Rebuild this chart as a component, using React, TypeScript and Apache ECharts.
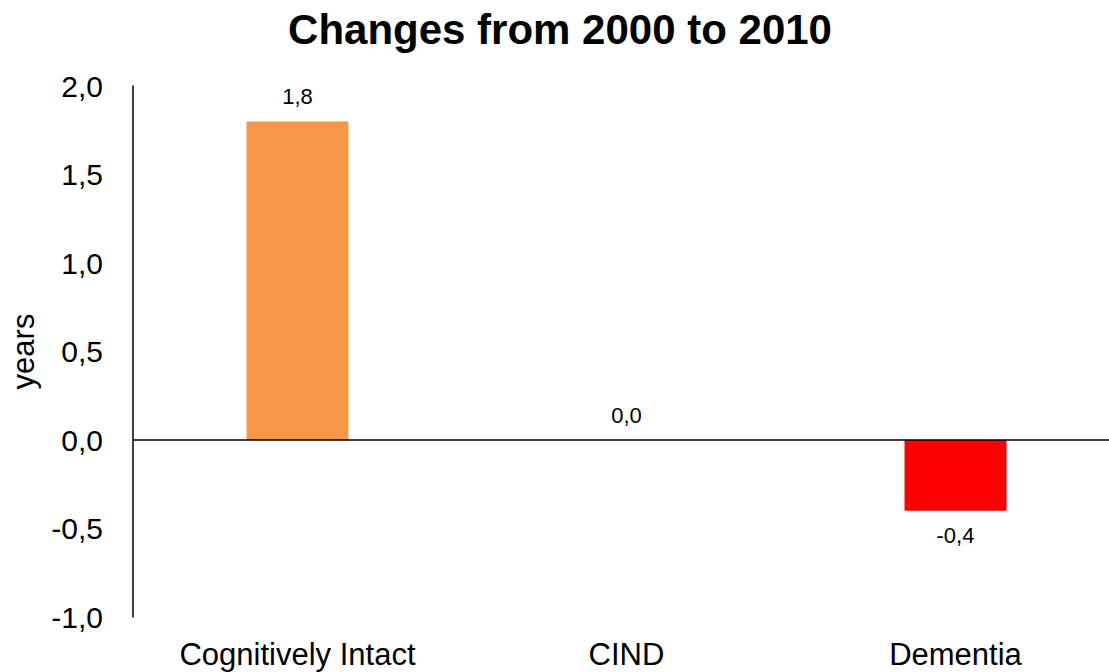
import React, { useEffect, useRef } from "react";
import * as echarts from "echarts";

const categories = ["Cognitively Intact", "CIND", "Dementia"];
const changes = [1.8, 0.0, -0.4];
const barColors = ["#F79646", "#F79646", "#FF0000"];
const yTicks = { min: -1, max: 2, interval: 0.5 };

const FONT = "'Liberation Sans', Arial, sans-serif";
const fmt = (v: number) => v.toFixed(1).replace(".", ",");

export default function App() {
  const ref = useRef<HTMLDivElement>(null);

  useEffect(() => {
    if (!ref.current) return;
    const chart = echarts.init(ref.current, null, { renderer: "svg" });
    chart.setOption({
      animation: false,
      backgroundColor: "#ffffff",
      title: {
        text: "Changes from 2000 to 2010",
        left: 555,
        textAlign: "center",
        top: 3,
        textStyle: { fontFamily: FONT, fontWeight: "bold", fontSize: 42, color: "#000" },
      },
      grid: { left: 128, right: 0, top: 86, bottom: 55, containLabel: false },
      xAxis: {
        type: "category",
        data: categories,
        axisLine: { show: false, onZero: false },
        axisTick: { show: false },
        axisLabel: { fontFamily: FONT, fontSize: 31, color: "#000", margin: 22, interval: 0 },
      },
      yAxis: {
        type: "value",
        min: yTicks.min,
        max: yTicks.max,
        interval: yTicks.interval,
        name: "years",
        nameLocation: "middle",
        nameGap: 94,
        nameTextStyle: { fontFamily: FONT, fontSize: 31, color: "#000" },
        axisLine: { show: true, lineStyle: { color: "#000", width: 1.5 } },
        axisTick: { show: false },
        splitLine: { show: false },
        axisLabel: {
          fontFamily: FONT,
          fontSize: 30,
          color: "#000",
          margin: 30,
          formatter: (v: number) => fmt(v),
        },
      },
      series: [
        {
          type: "bar",
          barWidth: "31%",
          data: changes.map((v, i) => ({
            value: v,
            itemStyle: { color: barColors[i] },
            label: { position: v < 0 ? "bottom" : "top" },
          })),
          label: {
            show: true,
            distance: 14,
            fontFamily: FONT,
            fontSize: 22,
            color: "#000",
            formatter: (p: any) => fmt(p.value),
          },
          markLine: {
            silent: true,
            symbol: "none",
            label: { show: false },
            lineStyle: { color: "#000", width: 1.5, type: "solid" },
            data: [{ yAxis: 0 }],
          },
        },
      ],
    });
    return () => chart.dispose();
  }, []);

  return (
    <div
      style={{
        position: "fixed",
        left: 0,
        top: 0,
        width: 1109,
        height: 672,
        overflow: "hidden",
        background: "#fff",
      }}
    >
      <div ref={ref} style={{ width: 1120, height: 672 }} />
    </div>
  );
}
